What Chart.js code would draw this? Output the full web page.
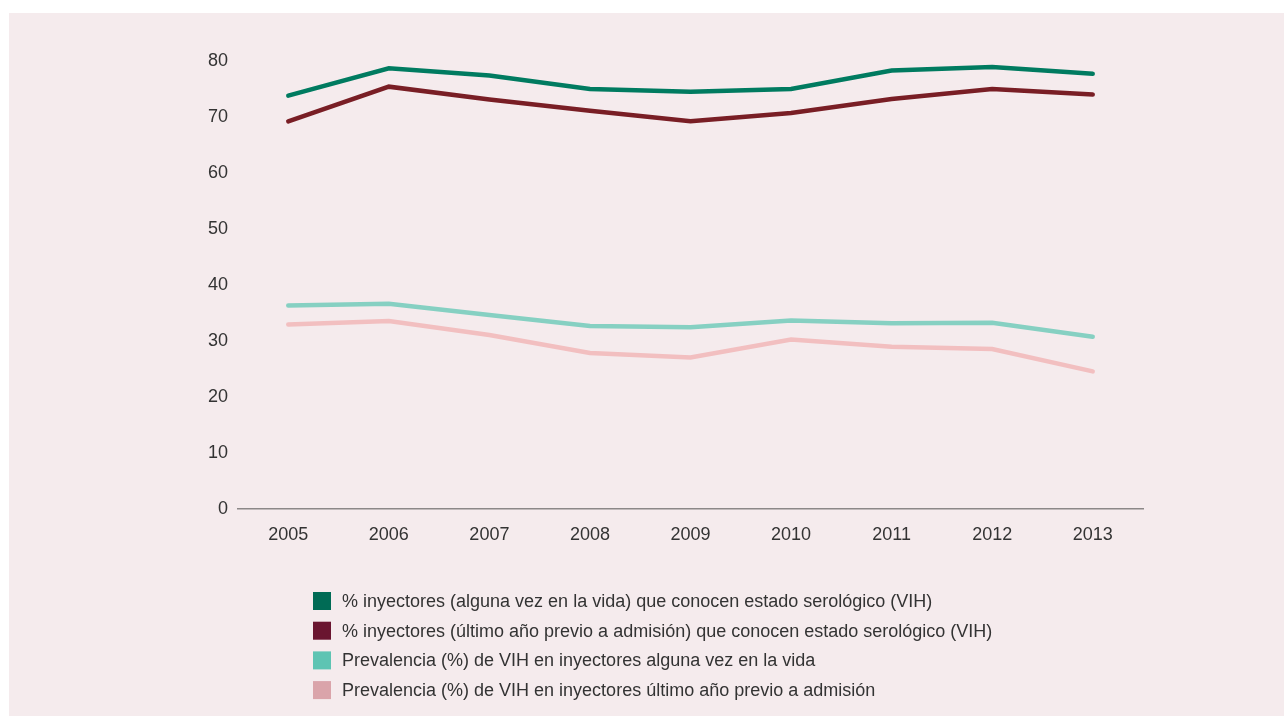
<!DOCTYPE html>
<html>
<head>
<meta charset="utf-8">
<script src="https://cdn.jsdelivr.net/npm/chart.js@4.4.1/dist/chart.umd.min.js"></script>
<style>
  html, body { margin: 0; padding: 0; background: #ffffff; }
  #wrap { position: relative; width: 1284px; height: 716px; }
  canvas { display: block; }
</style>
</head>
<body>
<div id="wrap"><canvas id="c" width="1284" height="716"></canvas></div>
<script>
const years = ['2005', '2006', '2007', '2008', '2009', '2010', '2011', '2012', '2013'];

const seriesLabels = [
  '% inyectores (alguna vez en la vida) que conocen estado serológico (VIH)',
  '% inyectores (último año previo a admisión) que conocen estado serológico (VIH)',
  'Prevalencia (%) de VIH en inyectores alguna vez en la vida',
  'Prevalencia (%) de VIH en inyectores último año previo a admisión'
];

const conocenAlgunaVez = [73.9, 78.8, 77.5, 75.1, 74.6, 75.1, 78.4, 79.0, 77.8];
const conocenUltimoAno = [69.3, 75.5, 73.2, 71.2, 69.3, 70.8, 73.3, 75.1, 74.1];
const prevalenciaAlgunaVez = [36.4, 36.7, 34.7, 32.7, 32.5, 33.7, 33.2, 33.3, 30.8];
const prevalenciaUltimoAno = [33.0, 33.6, 31.1, 27.9, 27.1, 30.3, 29.0, 28.6, 24.6];

const yTicks = [0, 10, 20, 30, 40, 50, 60, 70, 80];

const lineColors = ['#007b60', '#791e25', '#86d0c2', '#f2bfc0'];
const legendColors = ['#006b55', '#6a1530', '#5ec4b3', '#daa4aa'];

const FONT = '"Liberation Sans", Arial, Helvetica, sans-serif';
const TEXT = '#333333';

const bgPlugin = {
  id: 'bg',
  beforeDraw(chart) {
    const ctx = chart.ctx;
    ctx.save();
    ctx.fillStyle = '#ffffff';
    ctx.fillRect(0, 0, chart.width, chart.height);
    ctx.fillStyle = '#f5ebed';
    ctx.fillRect(9, 13, chart.width - 9, chart.height - 13);
    ctx.restore();
  }
};

const legendPlugin = {
  id: 'customLegend',
  afterDraw(chart) {
    const ctx = chart.ctx;
    ctx.save();
    ctx.font = '18px ' + FONT;
    ctx.textBaseline = 'middle';
    ctx.textAlign = 'left';
    chart.data.datasets.forEach((ds, i) => {
      const cy = 601 + i * 29.7;
      ctx.fillStyle = legendColors[i];
      ctx.fillRect(313, cy - 9, 18, 18);
      ctx.fillStyle = TEXT;
      ctx.fillText(ds.label, 342, cy + 1);
    });
    ctx.restore();
  }
};

const seriesData = [conocenAlgunaVez, conocenUltimoAno, prevalenciaAlgunaVez, prevalenciaUltimoAno];

new Chart(document.getElementById('c'), {
  type: 'line',
  data: {
    labels: years,
    datasets: seriesData.map((d, i) => ({
      label: seriesLabels[i],
      data: d,
      borderColor: lineColors[i],
      backgroundColor: lineColors[i],
      borderWidth: 4.5,
      borderCapStyle: 'round',
      borderJoinStyle: 'miter',
      pointRadius: 0,
      pointHoverRadius: 0,
      tension: 0,
      fill: false
    }))
  },
  options: {
    responsive: false,
    animation: false,
    devicePixelRatio: 1,
    layout: { padding: { top: 61.5, left: 0, right: 141, bottom: 167 } },
    plugins: {
      legend: { display: false },
      tooltip: { enabled: false },
      title: { display: false }
    },
    scales: {
      x: {
        type: 'category',
        offset: true,
        grid: { display: false, drawTicks: false },
        border: { display: true, color: '#8c8888', width: 1.5 },
        ticks: {
          color: TEXT,
          font: { family: FONT, size: 18 },
          padding: 15,
          maxRotation: 0
        },
        afterFit(scale) { scale.height = 40; }
      },
      y: {
        min: 0,
        max: 80,
        afterBuildTicks(scale) { scale.ticks = yTicks.map(v => ({ value: v })); },
        grid: { display: false, drawTicks: false },
        border: { display: false },
        ticks: {
          color: TEXT,
          font: { family: FONT, size: 18 },
          padding: 10
        },
        afterFit(scale) { scale.width = 238; }
      }
    }
  },
  plugins: [bgPlugin, legendPlugin]
});
</script>
</body>
</html>
